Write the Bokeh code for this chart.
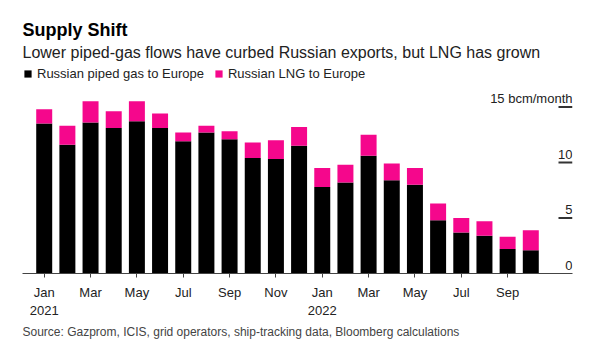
from bokeh.plotting import figure
from bokeh.models import ColumnDataSource, Range1d, FixedTicker, Title
from bokeh.core.properties import value
from bokeh.embed import file_html
from bokeh.resources import INLINE

months = ["Jan\n2021", "Feb", "Mar", "Apr", "May", "Jun", "Jul", "Aug", "Sep", "Oct", "Nov", "Dec",
          "Jan\n2022", "Feb", "Mar", "Apr", "May", "Jun", "Jul", "Aug", "Sep", "Oct"]
piped = [13.5, 11.6, 13.6, 13.1, 13.7, 13.1, 11.9, 12.7, 12.1, 10.4, 10.3, 11.5,
         7.8, 8.2, 10.6, 8.4, 8.0, 4.8, 3.7, 3.4, 2.2, 2.1]
lng = [1.3, 1.7, 1.9, 1.5, 1.8, 1.3, 0.8, 0.6, 0.7, 1.4, 1.7, 1.7,
       1.7, 1.6, 1.9, 1.5, 1.5, 1.5, 1.3, 1.3, 1.1, 1.8]
y_ticks = [0, 5, 10, 15]
y_tick_labels = ["0", "5", "10", "15 bcm/month"]
series_names = ["Russian piped gas to Europe", "Russian LNG to Europe"]
colors = ["#000000", "#f5078c"]

FONT = "Liberation Sans"
W, H = 600, 353
BL, BR, BT, BB = 22, 28, 62, 80

idx = list(range(len(months)))
src = ColumnDataSource(dict(x=idx, piped=piped, lng=lng))

x_start, x_end = -0.937, 22.80
p = figure(width=W, height=H, output_backend="svg", toolbar_location=None,
           x_range=Range1d(x_start, x_end), y_range=Range1d(0, 19),
           min_border_left=BL, min_border_right=BR, min_border_top=BT, min_border_bottom=BB)
p.title = None
p.outline_line_color = None
p.xgrid.visible = False
p.ygrid.visible = False
p.yaxis.visible = False

p.vbar_stack(["piped", "lng"], x="x", width=0.69, source=src, color=colors,
             line_color=None, legend_label=series_names)

# x axis
xa = p.xaxis[0]
xa.ticker = FixedTicker(ticks=idx[::2])
xa.major_label_overrides = {i: months[i] for i in idx[::2]}
xa.axis_line_color = "#444444"
xa.major_tick_line_color = "#444444"
xa.major_tick_out = 4
xa.major_tick_in = 0
xa.minor_tick_line_color = None
xa.major_label_standoff = 7
xa.major_label_text_font = FONT
xa.major_label_text_font_size = "13px"
xa.major_label_text_color = "#222222"

# short tick lines at the right edge (14 px long)
px_per_unit = (W - BL - BR) / (x_end - x_start)
tick_len = 14 / px_per_unit
gt = y_ticks[1:]
tick_src = ColumnDataSource(dict(x0=[x_end - tick_len] * len(gt),
                                 x1=[x_end] * len(gt),
                                 y=gt))
p.segment(x0="x0", x1="x1", y0="y", y1="y", source=tick_src,
          line_color="#333333", line_width=2)

# y tick labels above tick lines
p.text(x=[x_end] * len(y_ticks), y=y_ticks, text=y_tick_labels,
       text_align="right", text_baseline="alphabetic", y_offset=-8,
       text_font=value(FONT), text_font_size="13px", text_color="#222222")

# legend
lg = p.legend[0]
lg.location = "top_left"
lg.orientation = "horizontal"
lg.margin = 1
lg.padding = 0
lg.spacing = 10
lg.background_fill_alpha = 0
lg.border_line_color = None
lg.glyph_width = 9
lg.glyph_height = 9
lg.label_standoff = 5
lg.label_text_font = FONT
lg.label_text_font_size = "13px"
lg.label_text_color = "#222222"
lg.label_height = 20

# titles
p.add_layout(Title(text="Source: Gazprom, ICIS, grid operators, ship-tracking data, Bloomberg calculations",
                   text_font=FONT, text_font_size="12px", text_font_style="normal",
                   text_color="#444444", align="left", standoff=4), "below")
p.add_layout(Title(text="Lower piped-gas flows have curbed Russian exports, but LNG has grown",
                   text_font=FONT, text_font_size="16px", text_font_style="normal",
                   text_color="#222222", align="left", standoff=3), "above")
p.add_layout(Title(text="Supply Shift", text_font=FONT, text_font_size="18px",
                   text_font_style="bold", text_color="#000000", align="left", standoff=2), "above")

open("out.html", "w").write(file_html(p, INLINE))
